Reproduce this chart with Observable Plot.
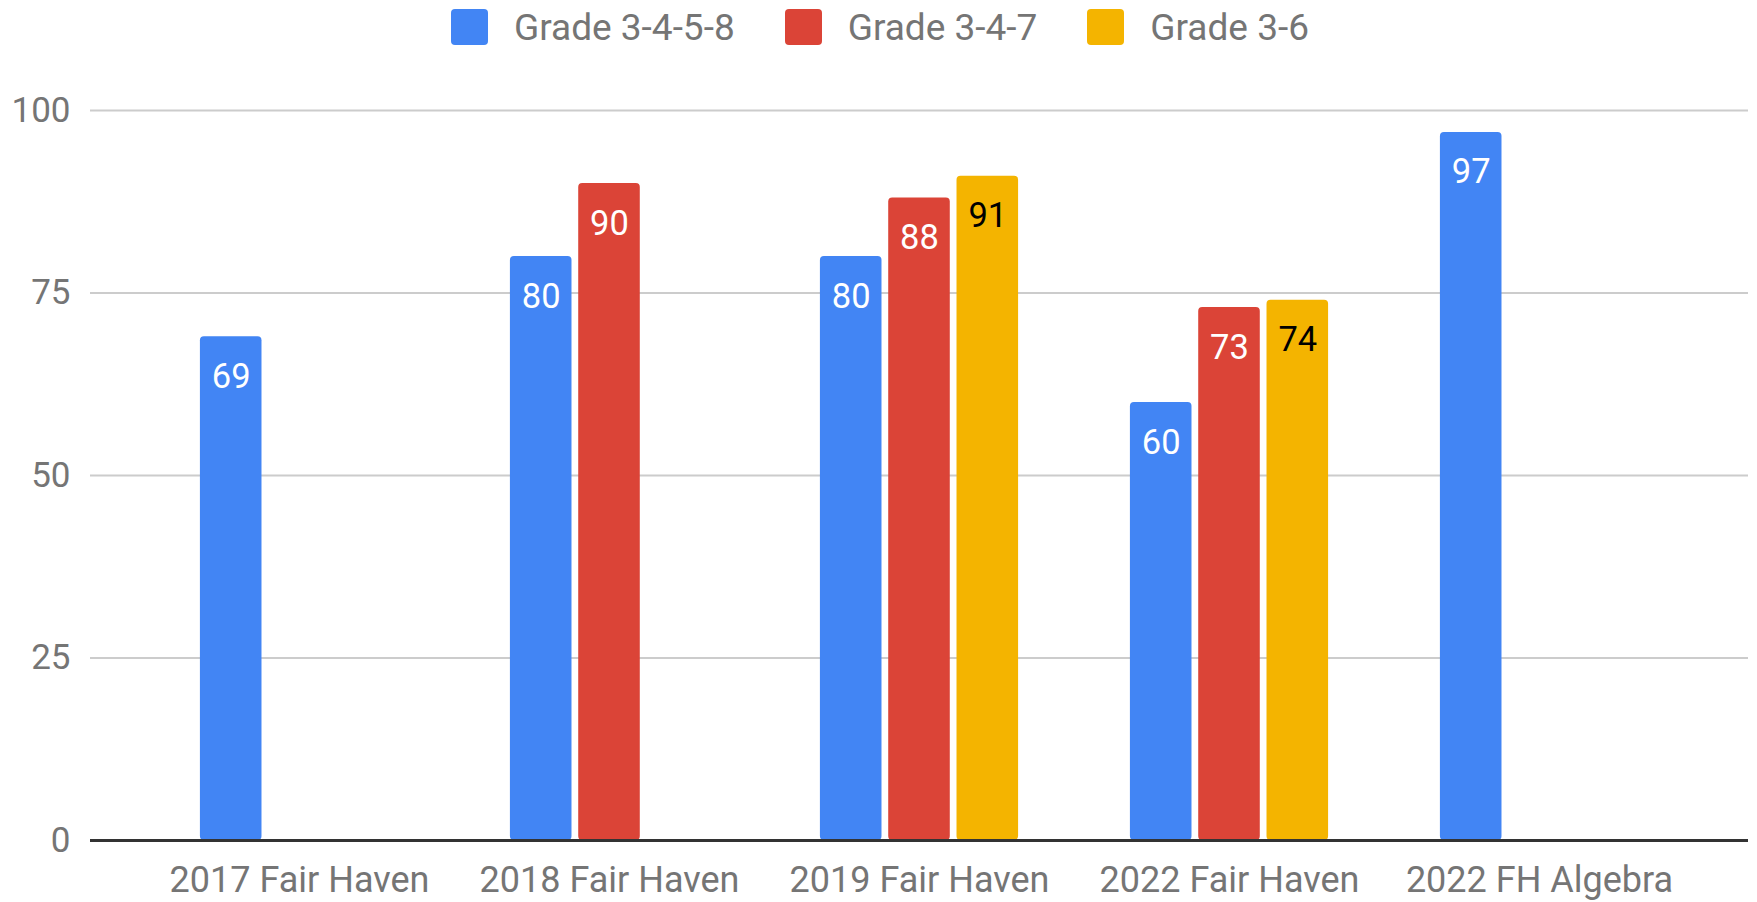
<!DOCTYPE html>
<html>
<head>
<meta charset="utf-8">
<script src="https://cdn.jsdelivr.net/npm/d3@7"></script>
<script src="https://cdn.jsdelivr.net/npm/@observablehq/plot@0.6"></script>
<style>
  html, body { margin: 0; padding: 0; background: #fff; }
  body { width: 1757px; height: 902px; overflow: hidden; font-family: Roboto, "Noto Sans", sans-serif; }
  #legend { height: 54px; display: flex; align-items: center; justify-content: center; padding-left: 3px; }
  .item { display: flex; align-items: center; font-size: 37px; color: #757575; margin: 0 25px; }
  .sw { width: 37px; height: 36px; border-radius: 4px; margin-right: 26px; }
  svg { display: block; }
</style>
</head>
<body>
<div id="legend"></div>
<div id="chart"></div>
<script>
const categories = ["2017 Fair Haven", "2018 Fair Haven", "2019 Fair Haven", "2022 Fair Haven", "2022 FH Algebra"];
const seriesNames = ["Grade 3-4-5-8", "Grade 3-4-7", "Grade 3-6"];
const grade3458 = [69, 80, 80, 60, 97];
const grade347 = [null, 90, 88, 73, null];
const grade36 = [null, null, 91, 74, null];
const yTicks = [0, 25, 50, 75, 100];
const colors = ["#4285F4", "#DB4437", "#F4B400"];
const labelColors = ["#ffffff", "#ffffff", "#000000"];

const seriesValues = [grade3458, grade347, grade36];
const data = [];
seriesValues.forEach((vals, si) => {
  vals.forEach((v, ci) => {
    if (v != null) data.push({category: categories[ci], series: seriesNames[si], si, value: v});
  });
});

// legend
const legend = document.getElementById("legend");
seriesNames.forEach((s, i) => {
  const it = document.createElement("div");
  it.className = "item";
  const sw = document.createElement("div");
  sw.className = "sw";
  sw.style.background = colors[i];
  const t = document.createElement("span");
  t.textContent = s;
  it.appendChild(sw); it.appendChild(t);
  legend.appendChild(it);
});

const width = 1757, height = 848;
const marginLeft = 90, marginRight = 9, marginTop = 56, marginBottom = 62;
const paddingOuter = 0.174;
const step = (width - marginLeft - marginRight) / (categories.length + 2 * paddingOuter);
const barW = 61.6, gap = 6.7;
const groupW = 3 * barW + 2 * gap;
const lead = (step - groupW) / 2;

const marks = [
  Plot.gridY(yTicks, {stroke: "#cccccc", strokeOpacity: 1, strokeWidth: 2}),
  Plot.axisY(yTicks, {tickSize: 0, tickPadding: 20, fontSize: 35, fill: "#757575", label: null}),
  Plot.axisX({tickSize: 0, tickPadding: 26, fontSize: 36, fill: "#757575", label: null})
];
seriesNames.forEach((s, i) => {
  const left = lead + i * (barW + gap);
  const right = step - left - barW;
  const sub = data.filter(d => d.si === i);
  marks.push(Plot.barY(sub, {x: "category", y: "value", fill: colors[i], insetLeft: left, insetRight: right, rx: 4}));
  marks.push(Plot.text(sub, {
    x: "category", y: "value", text: d => String(d.value),
    dx: (i - 1) * (barW + gap), dy: 40,
    fill: labelColors[i], fontSize: 34.5, fontFamily: "Roboto"
  }));
});
marks.push(Plot.ruleY([0], {stroke: "#333333", strokeWidth: 3}));

const chart = Plot.plot({
  width, height, marginLeft, marginRight, marginTop, marginBottom,
  style: {fontFamily: "Roboto", fontSize: "35px", color: "#757575", background: "#fff"},
  x: {domain: categories, paddingInner: 0, paddingOuter, label: null},
  y: {domain: [0, 100], label: null},
  marks
});
document.getElementById("chart").appendChild(chart);
</script>
</body>
</html>
